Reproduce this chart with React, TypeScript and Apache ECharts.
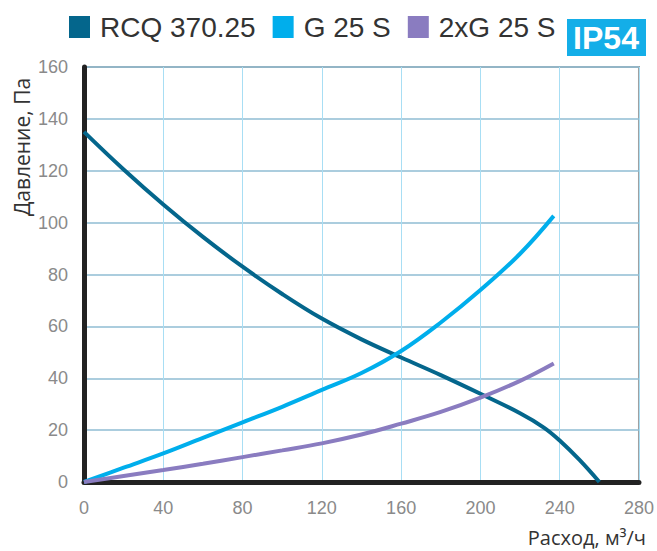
import React, { useEffect, useRef } from "react";
import * as echarts from "echarts";

const seriesNames = ["RCQ 370.25", "G 25 S", "2xG 25 S"];
const seriesColors = ["#04668c", "#00aeec", "#8a7cc0"];

const rcqData: [number, number][] = [
  [0, 135], [20, 120.5], [40, 107], [60, 94.5], [80, 83], [100, 72.5], [120, 63],
  [140, 55], [160, 48], [180, 41.2], [200, 34], [220, 26.5], [232, 21],
  [240, 16], [250, 8.5], [260, 0],
];
const gData: [number, number][] = [
  [0, 0], [20, 5.5], [40, 11], [60, 17], [80, 23], [100, 29], [120, 35.5],
  [140, 42], [160, 50.5], [180, 61.5], [200, 74], [220, 88], [237, 102.6],
];
const g2Data: [number, number][] = [
  [0, 0], [20, 2.3], [40, 4.6], [60, 7], [80, 9.6], [100, 12.2], [120, 14.9],
  [140, 18.3], [160, 22.5], [180, 27], [200, 32.5], [220, 39], [237, 45.7],
];

const xAxisTitle = "Расход, м³/ч";
const yAxisTitle = "Давление, Па";
const badgeText = "IP54";

export default function App() {
  const ref = useRef<HTMLDivElement>(null);
  useEffect(() => {
    if (!ref.current) return;
    const chart = echarts.init(ref.current, undefined, { renderer: "svg" });
    const datasets = [rcqData, gData, g2Data];
    chart.setOption({
      animation: false,
      backgroundColor: "#ffffff",
      legend: {
        left: 69,
        top: 13,
        padding: 0,
        itemWidth: 21,
        itemHeight: 22,
        itemGap: 17,
        icon: "rect",
        textStyle: {
          fontFamily: "Liberation Sans, Arial, sans-serif",
          fontSize: 28,
          color: "#333333",
          padding: [0, 0, 0, 5],
        },
        data: seriesNames,
      },
      grid: {
        left: 84,
        right: 12,
        top: 67,
        bottom: 69,
        show: true,
        borderColor: "#a0a0a0",
        borderWidth: 2,
        containLabel: false,
      },
      xAxis: {
        type: "value",
        min: 0,
        max: 280,
        interval: 40,
        axisLine: { show: true, onZero: false, lineStyle: { color: "#222222", width: 5 } },
        axisTick: { show: false },
        axisLabel: {
          margin: 17,
          fontFamily: "Liberation Sans, sans-serif",
          fontSize: 18,
          color: "#8a8a8a",
        },
        splitLine: { show: true, lineStyle: { color: "#a8def4", width: 1 } },
      },
      yAxis: {
        type: "value",
        min: 0,
        max: 160,
        interval: 20,
        axisLine: { show: true, onZero: false, lineStyle: { color: "#222222", width: 5 } },
        axisTick: { show: false },
        axisLabel: {
          margin: 16,
          fontFamily: "Liberation Sans, sans-serif",
          fontSize: 18,
          color: "#8a8a8a",
        },
        splitLine: { show: true, lineStyle: { color: "#8fbdd3", width: 1.5 } },
      },
      series: seriesNames.map((name, i) => ({
        name,
        type: "line",
        smooth: 0.4,
        showSymbol: false,
        symbol: "none",
        data: datasets[i],
        color: seriesColors[i],
        lineStyle: { color: seriesColors[i], width: 4 },
      })),
      graphic: [
        {
          type: "rect",
          left: 567,
          top: 19,
          shape: { width: 79, height: 37 },
          style: { fill: "#14aee8" },
        },
        {
          type: "text",
          x: 606,
          y: 38,
          style: {
            text: badgeText,
            fill: "#ffffff",
            font: "bold 32px Liberation Sans, Arial, sans-serif",
            align: "center",
            verticalAlign: "middle",
          },
        },
        {
          type: "text",
          x: 22,
          y: 147,
          rotation: Math.PI / 2,
          style: {
            text: yAxisTitle,
            fill: "#333333",
            font: "21px Open Sans, Noto Sans, sans-serif",
            align: "center",
            verticalAlign: "middle",
          },
        },
        {
          type: "text",
          x: 646,
          y: 537,
          style: {
            text: xAxisTitle,
            fill: "#333333",
            font: "20px Open Sans, Noto Sans, sans-serif",
            align: "right",
            verticalAlign: "middle",
          },
        },
      ],
    });
    return () => chart.dispose();
  }, []);
  return (
    <div
      ref={ref}
      style={{ position: "fixed", left: 0, top: 0, width: 657, height: 551 }}
    />
  );
}
